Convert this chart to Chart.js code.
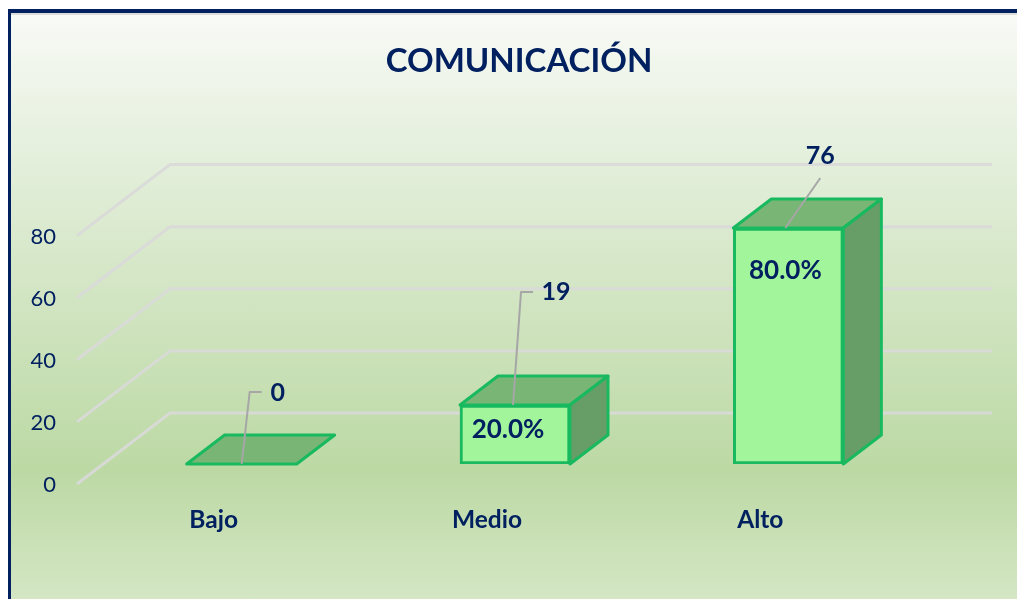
<!DOCTYPE html>
<html lang="es">
<head>
  <meta charset="UTF-8">
  <title>Comunicación</title>
  <script src="https://cdn.jsdelivr.net/npm/chart.js"></script>
  <style>
    * { box-sizing: border-box; margin: 0; padding: 0; }
    body { background: #fff; width: 1017px; height: 599px; overflow: hidden; position: relative; }
    .frame {
      position: absolute; left: 8px; top: 9px; right: 0; bottom: 0;
      border-top: 4px solid #002060;
      border-left: 3px solid #002060;
      background: linear-gradient(to bottom, #f8faf6 0%, #e2eed9 27%, #bcd9a4 78%, #d4e6c4 100%);
    }
    .frame::before { content: ""; position: absolute; left: 0; right: 0; top: 0; height: 2px; background: #dcdcdc; }
    canvas { position: absolute; left: 0; top: 0; }
  </style>
</head>
<body>
  <div class="frame"></div>
  <canvas id="chart" width="1017" height="599"></canvas>

  <script>
    const categories = ['Bajo', 'Medio', 'Alto'];
    const counts = [0, 19, 76];
    const percents = [0, 20, 80];
    const yTicks = [0, 20, 40, 60, 80];

    const navy = '#002060';
    const depth = { x: 38, y: -29 };
    // label placement, relative to the top centre of each bar
    const leaders = [
      [[0, 0], [8, -72], [20, -72]],
      [[-2, 0], [6, -113], [18, -113]],
      [[-3, 0], [32, -50]]
    ];
    const countPos = [[36, -71], [41, -113], [32, -72]];
    const percentPos = [null, [-7, 25], [-3, 43]];

    const box3d = {
      id: 'box3d',
      afterLayout(chart) {
        chart.titleBlock.left += 4;
        chart.titleBlock.right += 4;
      },
      beforeDatasetsDraw(chart) {
        const ctx = chart.ctx, y = chart.scales.y;
        ctx.save();
        ctx.strokeStyle = 'rgba(217,217,217,0.9)';
        ctx.lineWidth = 3;
        yTicks.forEach(v => {
          const py = y.getPixelForValue(v);
          ctx.beginPath();
          ctx.moveTo(77, py + 20);
          ctx.lineTo(170, py - 51);
          ctx.lineTo(992, py - 51);
          ctx.stroke();
        });
        ctx.restore();
      },
      afterDatasetsDraw(chart) {
        const ctx = chart.ctx, y = chart.scales.y;
        const base = y.getPixelForValue(0);
        ctx.save();
        ctx.lineJoin = 'round';
        ctx.strokeStyle = '#18b95f';
        ctx.lineWidth = 3;
        chart.getDatasetMeta(0).data.forEach((bar, i) => {
          const l = bar.x - 55, r = bar.x + 55, t = bar.y;
          // top face
          ctx.fillStyle = '#79b676';
          ctx.beginPath();
          ctx.moveTo(l, t);
          ctx.lineTo(l + depth.x, t + depth.y);
          ctx.lineTo(r + depth.x, t + depth.y);
          ctx.lineTo(r, t);
          ctx.closePath();
          ctx.fill();
          ctx.stroke();
          // side face
          if (counts[i] > 0) {
            ctx.fillStyle = '#679d66';
            ctx.beginPath();
            ctx.moveTo(r, t);
            ctx.lineTo(r + depth.x, t + depth.y);
            ctx.lineTo(r + depth.x, base + depth.y);
            ctx.lineTo(r, base);
            ctx.closePath();
            ctx.fill();
            ctx.stroke();
          }
        });

        // leader lines and labels
        ctx.textAlign = 'center';
        ctx.textBaseline = 'middle';
        ctx.fillStyle = navy;
        chart.getDatasetMeta(0).data.forEach((bar, i) => {
          ctx.strokeStyle = '#a6a6a6';
          ctx.lineWidth = 2;
          ctx.beginPath();
          leaders[i].forEach((p, k) => {
            if (k === 0) ctx.moveTo(bar.x + p[0], bar.y + p[1]);
            else ctx.lineTo(bar.x + p[0], bar.y + p[1]);
          });
          ctx.stroke();

          ctx.font = 'bold 25px Lato';
          ctx.fillText(String(counts[i]), bar.x + countPos[i][0], bar.y + countPos[i][1]);
          if (percentPos[i]) {
            ctx.font = 'bold 26px Lato';
            ctx.fillText(percents[i].toFixed(1) + '%', bar.x + percentPos[i][0], bar.y + percentPos[i][1]);
          }
        });
        ctx.restore();
      }
    };

    new Chart(document.getElementById('chart'), {
      type: 'bar',
      data: {
        labels: categories,
        datasets: [{
          data: counts,
          backgroundColor: '#a3f59b',
          borderColor: '#18b95f',
          borderWidth: 3,
          borderSkipped: false,
          barThickness: 110
        }]
      },
      options: {
        responsive: false,
        animation: false,
        layout: { padding: { left: 0, right: 92, top: 0, bottom: 0 } },
        plugins: {
          legend: { display: false },
          tooltip: { enabled: false },
          title: {
            display: true,
            fullSize: false,
            text: 'COMUNICACIÓN',
            color: navy,
            font: { family: 'Lato', size: 33, weight: 'bold', lineHeight: 1.2 },
            padding: { top: 42, bottom: 134 }
          }
        },
        scales: {
          x: {
            grid: { display: false },
            border: { display: false },
            afterFit(scale) { scale.height = 135; },
            ticks: {
              color: navy,
              font: { family: 'Lato', size: 24.5, weight: 'bold' },
              padding: 33,
              labelOffset: -28,
              maxRotation: 0,
              autoSkip: false
            }
          },
          y: {
            min: 0,
            max: 80,
            grid: { display: false },
            border: { display: false },
            afterFit(scale) { scale.width = 105; },
            ticks: {
              color: navy,
              font: { family: 'Lato', size: 22 },
              stepSize: 20,
              padding: 41,
              labelOffset: 21
            }
          }
        }
      },
      plugins: [box3d]
    });
  </script>
</body>
</html>
